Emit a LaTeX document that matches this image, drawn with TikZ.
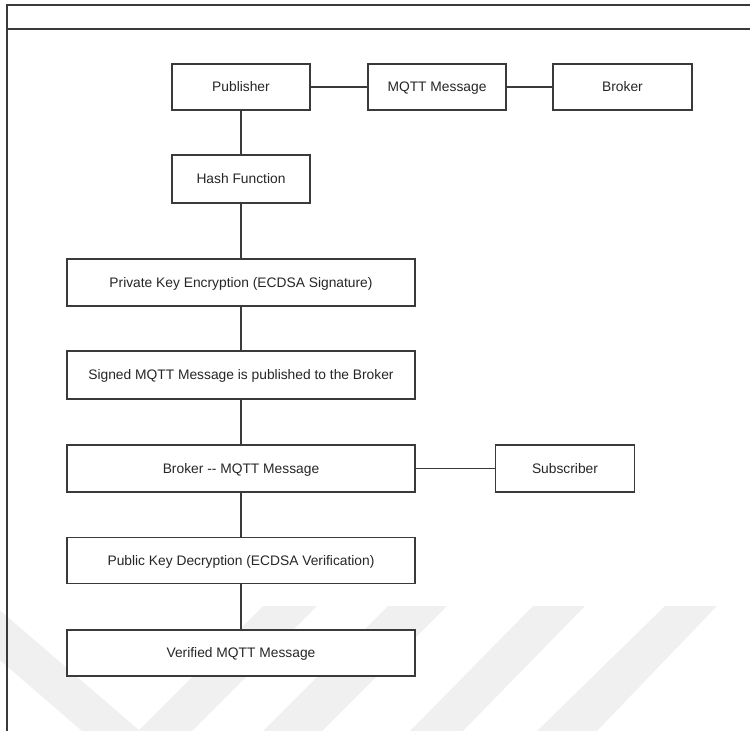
\documentclass[tikz,border=0pt]{standalone}
\usepackage{fontspec}
\setmainfont{Liberation Sans}
\definecolor{edgegray}{HTML}{3A3A3A}
\definecolor{stripegray}{HTML}{F0F0F0}
\begin{document}
\begin{tikzpicture}[x=1pt,y=-1pt,
  box/.style={draw=edgegray,line width=1.3pt,fill=white,inner sep=0pt,
    text height=9.8pt,text depth=0.2pt,
    font=\fontsize{13.8}{16}\selectfont,text=black!85},
  small/.style={box,minimum width=138pt,minimum height=46pt},
  wide/.style={box,minimum width=348pt,minimum height=47pt},
  link/.style={draw=edgegray,line width=1.3pt},
  frame/.style={draw=edgegray,line width=1.5pt}]
\useasboundingbox (0,0) rectangle (750,731);
\begin{scope}
\clip (0,0) rectangle (750,731);
% faint stripes in the lower part of the page
\fill[stripegray] (-63,606) -- (-5,606) -- (140,731) -- (82,731) -- cycle;
\fill[stripegray] (263,606) -- (317,606) -- (192,731) -- (138,731) -- cycle;
\fill[stripegray] (388,606) -- (447,606) -- (322,731) -- (263,731) -- cycle;
\fill[stripegray] (533,606) -- (585,606) -- (463,731) -- (410,731) -- cycle;
\fill[stripegray] (665,606) -- (717,606) -- (597,731) -- (537,731) -- cycle;
\end{scope}
% page frame
\coordinate (f1) at (7,5);
\coordinate (f2) at (750,5);
\coordinate (f3) at (7,29);
\coordinate (f4) at (750,29);
\coordinate (f5) at (7,731);
\draw[frame] (f2) -- (f1) -- (f5);
\draw[frame] (f3) -- (f4);
% nodes
\node[small] (pub) at (241,87) {Publisher};
\node[small] (msg) at (437,87) {MQTT Message};
\node[small,minimum width=139pt] (brk) at (622.5,87) {Broker};
\node[small,minimum height=48pt] (hash) at (241,179) {Hash Function};
\node[wide] (priv) at (241,282.5) {Private Key Encryption (ECDSA Signature)};
\node[wide,minimum height=48pt] (sign) at (241,375) {Signed MQTT Message is published to the Broker};
\node[wide] (bmsg) at (241,468.5) {Broker -{}- MQTT Message};
\node[small,minimum width=139pt,minimum height=47pt] (sub) at (565,468.5) {Subscriber};
\node[wide,minimum height=46pt] (dec) at (241,560.5) {Public Key Decryption (ECDSA Verification)};
\node[wide,minimum height=46pt] (ver) at (241,653) {Verified MQTT Message};
% connectors
\draw[link] (pub) -- (msg);
\draw[link] (msg) -- (brk);
\draw[link] (pub) -- (hash);
\draw[link] (hash) -- (priv);
\draw[link] (priv) -- (sign);
\draw[link] (sign) -- (bmsg);
\draw[link] (bmsg) -- (sub);
\draw[link] (bmsg) -- (dec);
\draw[link] (dec) -- (ver);
\end{tikzpicture}
\end{document}
